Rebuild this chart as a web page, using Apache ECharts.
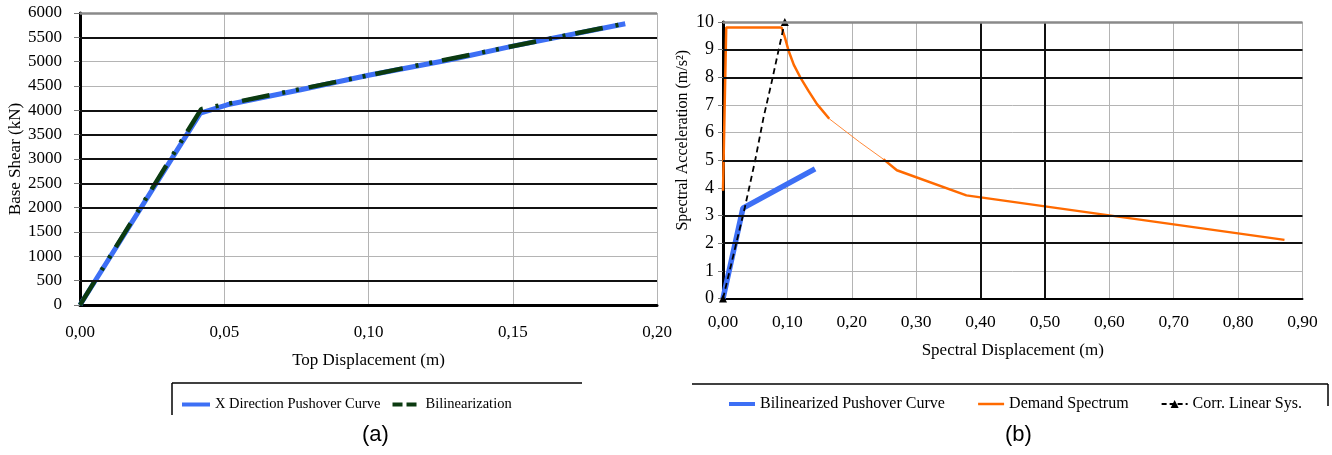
<!DOCTYPE html>
<html>
<head>
<meta charset="utf-8">
<script src="https://cdn.jsdelivr.net/npm/echarts@6/dist/echarts.min.js"></script>
<style>
html,body{margin:0;padding:0;background:#fff;}
#chart{width:1332px;height:455px;}
</style>
</head>
<body>
<div id="chart"></div>
<script>
// ---- Chart (a): pushover curve ----
const pushoverX = [0, 0.0417, 0.051, 0.0765, 0.10, 0.1287, 0.15, 0.189];
const pushoverY = [0, 3943, 4114, 4422, 4720, 5045, 5320, 5780];
const bilinX = [0, 0.042, 0.189];
const bilinY = [0, 4025, 5785];
const leftXTicks = [0, 0.05, 0.10, 0.15, 0.20];
const leftYTicks = [0, 500, 1000, 1500, 2000, 2500, 3000, 3500, 4000, 4500, 5000, 5500, 6000];
const leftDarkGridY = [500, 2000, 2500, 3000, 3500, 4000, 5500];

// ---- Chart (b): capacity spectrum ----
const capX = [0, 0.031, 0.143];
const capY = [0, 3.27, 4.69];
const demandX = [0, 0.005, 0.091, 0.096, 0.102, 0.11, 0.12, 0.133, 0.146, 0.165, 0.212, 0.249, 0.27, 0.378, 0.872];
const demandY = [3.9, 9.8, 9.8, 9.45, 8.95, 8.45, 8.0, 7.5, 7.03, 6.5, 5.66, 5.04, 4.64, 3.73, 2.12];
const demandThinStart = 9;   // the stretch drawn faintly in the source image
const demandThinEnd = 11;
const corrX = [0, 0.034, 0.05, 0.063, 0.076, 0.086, 0.096];
const corrY = [0, 3.3, 5.0, 6.55, 7.87, 8.95, 10.0];
const rightXTicks = [0, 0.1, 0.2, 0.3, 0.4, 0.5, 0.6, 0.7, 0.8, 0.9];
const rightYTicks = [0, 1, 2, 3, 4, 5, 6, 7, 8, 9, 10];
const rightDarkGridY = [2, 3, 5, 8, 9];
const rightDarkGridX = [0.4, 0.5];

const names = {
  push: 'X Direction Pushover Curve',
  bilin: 'Bilinearization',
  cap: 'Bilinearized Pushover Curve',
  demand: 'Demand Spectrum',
  corr: 'Corr. Linear Sys.'
};

const zip = (xs, ys) => xs.map((x, i) => [x, ys[i]]);
const FONT = 'Liberation Serif';
const commaFmt = v => v.toFixed(2).replace('.', ',');
const plainFmt = v => String(v);

const BLUE = '#3d6ff5';
const GREEN = '#0b3a10';
const ORANGE = '#ff6a00';

const darkLine = {color: '#111', width: 2, type: 'solid'};
const topLine = {color: '#8a8a8a', width: 2.5, type: 'solid'};
const greyGrid = {color: '#b4b4b4', width: 1};

const demandPts = zip(demandX, demandY);
const demandThick = demandPts.map((p, i) => (i > demandThinStart && i < demandThinEnd) ? [p[0], null] : p);
const demandThickData = [];
demandPts.forEach((p, i) => {
  demandThickData.push(p);
  if (i === demandThinStart) demandThickData.push([p[0], null]);
});
const demandThinData = demandPts.slice(demandThinStart, demandThinEnd + 1);
// thick part: break between thinStart and thinEnd
const thickData = demandPts.filter((p, i) => i <= demandThinStart || i >= demandThinEnd);
const thickWithGap = [];
thickData.forEach((p, i) => {
  if (i > 0 && thickData[i - 1] === demandPts[demandThinStart]) thickWithGap.push('-');
  thickWithGap.push(p);
});

const chart = echarts.init(document.getElementById('chart'), null, {renderer: 'canvas'});

const option = {
  animation: false,
  backgroundColor: '#fff',
  textStyle: {fontFamily: FONT, color: '#000'},
  grid: [
    {left: 80, top: 13, width: 577, height: 292, containLabel: false},
    {left: 723, top: 22, width: 579.5, height: 276.5, containLabel: false}
  ],
  xAxis: [
    {
      gridIndex: 0, type: 'value', min: leftXTicks[0], max: leftXTicks[leftXTicks.length - 1], interval: 0.05,
      name: 'Top Displacement (m)', nameLocation: 'middle', nameGap: 47,
      nameTextStyle: {fontFamily: FONT, fontSize: 17, color: '#000'},
      axisLine: {show: true, onZero: false, lineStyle: {color: '#000', width: 3}},
      axisTick: {show: false},
      axisLabel: {fontFamily: FONT, fontSize: 17, color: '#000', margin: 19, formatter: commaFmt},
      splitLine: {show: true, lineStyle: greyGrid}
    },
    {
      gridIndex: 1, type: 'value', min: rightXTicks[0], max: rightXTicks[rightXTicks.length - 1], interval: 0.1,
      name: 'Spectral Displacement (m)', nameLocation: 'middle', nameGap: 44,
      nameTextStyle: {fontFamily: FONT, fontSize: 17, color: '#000'},
      axisLine: {show: true, onZero: false, lineStyle: {color: '#000', width: 2}},
      axisTick: {show: false},
      axisLabel: {fontFamily: FONT, fontSize: 17.5, color: '#000', margin: 15, formatter: commaFmt},
      splitLine: {show: true, lineStyle: greyGrid}
    }
  ],
  yAxis: [
    {
      gridIndex: 0, type: 'value', min: leftYTicks[0], max: leftYTicks[leftYTicks.length - 1], interval: 500,
      name: 'Base Shear (kN)', nameLocation: 'middle', nameGap: 53,
      nameTextStyle: {fontFamily: FONT, fontSize: 17, color: '#000'},
      axisLine: {show: true, onZero: false, lineStyle: {color: '#000', width: 3}},
      axisTick: {show: true, length: 6, lineStyle: {color: '#777', width: 1}},
      axisLabel: {fontFamily: FONT, fontSize: 17, color: '#000', margin: 18, formatter: plainFmt},
      splitLine: {show: true, lineStyle: greyGrid}
    },
    {
      gridIndex: 1, type: 'value', min: rightYTicks[0], max: rightYTicks[rightYTicks.length - 1], interval: 1,
      name: 'Spectral Acceleration (m/s²)', nameLocation: 'middle', nameGap: 32,
      nameTextStyle: {fontFamily: FONT, fontSize: 16, color: '#000', padding: [0, 0, 0, 40]},
      axisLine: {show: true, onZero: false, lineStyle: {color: '#000', width: 3}},
      axisTick: {show: true, length: 5, lineStyle: {color: '#777', width: 1}},
      axisLabel: {fontFamily: FONT, fontSize: 18, color: '#000', margin: 9, formatter: plainFmt},
      splitLine: {show: true, lineStyle: greyGrid}
    }
  ],
  legend: [
    {
      data: [
        {name: names.push, lineStyle: {width: 4, color: BLUE}},
        {name: names.bilin, lineStyle: {width: 4, color: GREEN, type: [10, 4]}}
      ],
      left: 175, top: 392, itemWidth: 28, itemHeight: 12, itemGap: 10,
      itemStyle: {opacity: 0},
      textStyle: {fontFamily: FONT, fontSize: 14.5, color: '#000'},
      selectedMode: false
    },
    {
      data: [
        {name: names.cap, lineStyle: {width: 4, color: BLUE}},
        {name: names.demand, lineStyle: {width: 2.5, color: ORANGE, type: 'solid'}},
        {name: names.corr, itemStyle: {opacity: 1}, lineStyle: {width: 2, color: '#000', type: [5, 3]}}
      ],
      left: 722, top: 391, itemWidth: 26, itemHeight: 10, itemGap: 32,
      itemStyle: {opacity: 0},
      textStyle: {fontFamily: FONT, fontSize: 16, color: '#000'},
      selectedMode: false
    }
  ],
  series: [
    {
      name: '_gridA', type: 'line', xAxisIndex: 0, yAxisIndex: 0, data: [], z: 1, silent: true,
      markLine: {
        silent: true, symbol: 'none', animation: false, label: {show: false},
        data: leftDarkGridY.map(v => ({yAxis: v, lineStyle: darkLine}))
          .concat([{yAxis: leftYTicks[leftYTicks.length - 1], lineStyle: topLine}])
      }
    },
    {
      name: '_gridB', type: 'line', xAxisIndex: 1, yAxisIndex: 1, data: [], z: 1, silent: true,
      markLine: {
        silent: true, symbol: 'none', animation: false, label: {show: false},
        data: rightDarkGridY.map(v => ({yAxis: v, lineStyle: darkLine}))
          .concat(rightDarkGridX.map(v => ({xAxis: v, lineStyle: darkLine})))
          .concat([{yAxis: rightYTicks[rightYTicks.length - 1], lineStyle: topLine}])
      }
    },
    {
      name: names.push, type: 'line', xAxisIndex: 0, yAxisIndex: 0, z: 3,
      data: zip(pushoverX, pushoverY), showSymbol: false, symbol: 'none',
      lineStyle: {color: BLUE, width: 5}, itemStyle: {color: BLUE}
    },
    {
      name: names.bilin, type: 'line', xAxisIndex: 0, yAxisIndex: 0, z: 4,
      data: zip(bilinX, bilinY), showSymbol: false, symbol: 'none',
      lineStyle: {color: GREEN, width: 4.5, type: [28, 13, 3, 11, 3, 10], cap: 'butt'},
      itemStyle: {color: GREEN}
    },
    {
      name: names.cap, type: 'line', xAxisIndex: 1, yAxisIndex: 1, z: 3,
      data: zip(capX, capY), showSymbol: false, symbol: 'none',
      lineStyle: {color: BLUE, width: 5.5}, itemStyle: {color: BLUE}
    },
    {
      name: names.demand, type: 'line', xAxisIndex: 1, yAxisIndex: 1, z: 3,
      data: thickWithGap, showSymbol: false, symbol: 'none', connectNulls: false,
      lineStyle: {color: ORANGE, width: 2.5}, itemStyle: {color: ORANGE}
    },
    {
      name: names.demand, type: 'line', xAxisIndex: 1, yAxisIndex: 1, z: 3,
      data: demandThinData, showSymbol: false, symbol: 'none',
      lineStyle: {color: '#ff8a3a', width: 1}, itemStyle: {color: ORANGE}
    },
    {
      name: names.corr, type: 'line', xAxisIndex: 1, yAxisIndex: 1, z: 4, clip: false,
      data: zip(corrX, corrY).map((p, i, arr) => ({
        value: p,
        symbol: (i === 0 || i === arr.length - 1) ? 'triangle' : 'none'
      })),
      symbol: 'triangle', symbolSize: 8, showSymbol: true,
      lineStyle: {color: '#000', width: 1.8, type: [6, 4]}, itemStyle: {color: '#000'}
    }
  ],
  graphic: [
    {type: 'line', shape: {x1: 172, y1: 383, x2: 582, y2: 383}, style: {stroke: '#000', lineWidth: 1.5}},
    {type: 'line', shape: {x1: 172, y1: 383, x2: 172, y2: 415}, style: {stroke: '#000', lineWidth: 1.5}},
    {type: 'line', shape: {x1: 692, y1: 384, x2: 1328, y2: 384}, style: {stroke: '#000', lineWidth: 1.5}},
    {type: 'line', shape: {x1: 1328, y1: 384, x2: 1328, y2: 406}, style: {stroke: '#000', lineWidth: 1.5}},
    {type: 'text', left: 362, top: 424, style: {text: '(a)', font: '22px "Liberation Sans"', fill: '#000'}},
    {type: 'text', left: 1005, top: 424, style: {text: '(b)', font: '22px "Liberation Sans"', fill: '#000'}}
  ]
};

chart.setOption(option);
</script>
</body>
</html>
